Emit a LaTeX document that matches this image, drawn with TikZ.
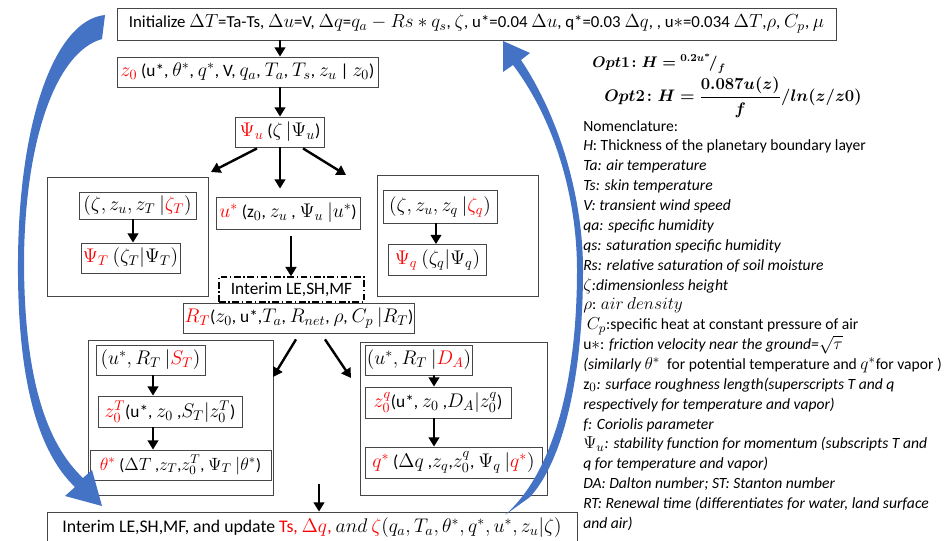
\RequirePackage{fix-cm}
\documentclass[tikz,border=0pt]{standalone}
\usepackage{amsmath,bm}
\usepackage{fontspec}
\setmainfont{Carlito}
\usetikzlibrary{positioning,arrows.meta,calc}
\definecolor{pptblue}{RGB}{68,114,196}
\definecolor{boxgray}{RGB}{70,70,70}
\newcommand{\redtxt}[1]{\textcolor{red}{#1}}
% math a little larger than the text, as in the original
\DeclareMathSizes{13}{14.8}{10.5}{8}
\DeclareMathSizes{12.6}{14.2}{10.2}{8}
\DeclareMathSizes{12.3}{13.3}{9.5}{7.5}
\DeclareMathSizes{13.3}{14.8}{10.5}{8}
\DeclareMathSizes{11.7}{13}{9.5}{7.5}

\begin{document}
\begin{tikzpicture}[x=0.75pt,y=-0.75pt,
                    box/.style={draw=boxgray,line width=0.6pt,inner sep=1pt,font=\fontsize{13}{15}\selectfont},
                    group/.style={draw=boxgray,line width=0.6pt,inner sep=0pt},
                    sz/.style 2 args={minimum width=#1*0.75pt,minimum height=#2*0.75pt},
                    flow/.style={line width=1.8pt,-{Triangle[length=7pt,width=8pt]}},
                    cyclearrow/.style={fill=pptblue,draw=none}
                   ]
  \useasboundingbox (0,0) rectangle (948,541);
  \clip (0,0) rectangle (948,541);

  % group frames
  \node[group,sz={161}{119}] (grpT) at (127.5,236.5) {};
  \node[group,sz={161}{121}] (grpq) at (457.5,235.5) {};
  \node[group,sz={185}{155}] (grpS) at (180.5,417.5) {};
  \node[group,sz={187}{153}] (grpD) at (453.5,418.5) {};

  % main chain
  \node[box,sz={719}{32},font=\fontsize{12.6}{15}\selectfont] (init) at (476.5,24) {Initialize $\Delta T$=Ta-Ts, $\Delta u$=V, $\Delta q$=$q_a - Rs * q_s$, $\zeta$, u*=0.04 $\Delta u$, q*=0.03 $\Delta q$, , u$*$=0.034 $\Delta T$,$\rho$, $C_p$, $\mu$};
  \node[box,sz={261}{30}] (z0) at (247.5,72) {\redtxt{$z_0$} (u*, $\theta^*$, $q^*$, V, $q_a$, $T_a$, $T_s$, $z_u$ | $z_0$)};
  \node[box,sz={89}{30}] (psiu) at (280,132) {\redtxt{$\Psi_u$} ($\zeta\,|\Psi_u$)};

  \node[box,sz={117}{27}] (zetaT) at (137.5,205.5) {$(\zeta, z_u, z_T\ |$\redtxt{$\zeta_T$}$)$};
  \node[box,sz={99}{30}] (psiT) at (130.5,258) {\redtxt{$\Psi_T$} $(\zeta_T|\Psi_T)$};
  \node[box,sz={144}{32}] (ustar) at (288,213) {\redtxt{$u^*$} (z$_0$, $z_u$ , $\Psi_u$ $|u^*$)};
  \node[box,sz={145}{25},draw=black,line width=1pt,
        dash pattern=on 5pt off 2pt on 1pt off 2pt] (interim) at (291.5,289.5) {Interim LE,SH,MF};
  \node[box,sz={114}{33}] (zetaq) at (440,206.5) {$(\zeta, z_u, z_q\ |$\redtxt{$\zeta_q$}$)$};
  \node[box,sz={98}{31}] (psiq) at (437.5,260) {\redtxt{$\Psi_q$} $(\zeta_q|\Psi_q)$};

  \node[box,sz={228}{30}] (rt) at (299,318) {\redtxt{$R_T$}($z_0$, u*,$T_a$, $R_{net}$, $\rho$, $C_p$ $|R_T$)};

  \node[box,sz={109}{30}] (st) at (150.5,360) {$(u^*, R_T\ |$\redtxt{$S_T$}$)$};
  \node[box,sz={144}{31}] (z0T) at (170,411.5) {\redtxt{$z_0^T$}(u*, $z_0$ ,$S_T|z_0^T$)};
  \node[box,sz={181}{30},font=\fontsize{12.3}{14}\selectfont] (theta) at (180.5,465) {\redtxt{$\theta^*$} ($\Delta T$ ,$z_T$,$z_0^T$, $\Psi_T$ $|\theta^*$)};
  \node[box,sz={106}{30}] (da) at (419,360) {$(u^*, R_T\ |$\redtxt{$D_A$}$)$};
  \node[box,sz={146}{31}] (z0q) at (438,402.5) {\redtxt{$z_0^q$}(u*, $z_0$ ,$D_A|z_0^q$)};
  \node[box,sz={177}{31}] (qstar) at (453.5,462.5) {\redtxt{$q^*$} ($\Delta q$ ,$z_q$,$z_0^q$, $\Psi_q$ $|$\redtxt{$q^*$}$)$};

  \node[box,sz={530}{32},font=\fontsize{13.3}{16}\selectfont] (update) at (312,528) {Interim LE,SH,MF, and update \redtxt{Ts, $\Delta q$,} $and$ \redtxt{$\zeta$}$(q_a,T_a,\theta^*, q^*,u^*, z_u|\zeta)$};

  % free ends
  \coordinate (psiuL) at (211,172);
  \coordinate (psiuR) at (346,175);
  \coordinate (rtL) at (273,377);
  \coordinate (rtR) at (351,378);
  \coordinate (downS) at (319,484);

  \path[flow]
    (init.south -| psiu) edge (z0.north -| psiu)
    (z0.south -| psiu) edge (psiu.north)
    ($(psiu.south)+(-23,1)$) edge (psiuL)
    (psiu.south) edge[shorten >=6pt] (ustar.north -| psiu)
    ($(psiu.south)+(23,1)$) edge (psiuR)
    (zetaT.south -| 133,0) edge (psiT.north -| 133,0)
    (ustar.south -| 291,0) edge[shorten <=5pt] (interim.north -| 291,0)
    (zetaq.south -| 436,0) edge (psiq.north -| 436,0)
    ($(rt.south)+(-3,6)$) edge (rtL)
    ($(rt.south)+(26,6)$) edge (rtR)
    (st.south -| 153,0) edge (z0T.north -| 153,0)
    (z0T.south -| 153,0) edge (theta.north -| 153,0)
    (da.south -| 434,0) edge (z0q.north -| 434,0)
    (z0q.south -| 434,0) edge (qstar.north -| 434,0)
    (downS) edge (update.north -| downS);

  % loop arrows
  \fill[cyclearrow] (105,15) .. controls (55,20) and (19,120) .. (18,260)
        .. controls (17,380) and (38,452) .. (75,487) -- (65,496) -- (102,506) -- (92,470) -- (83,478)
        .. controls (47,444) and (24,380) .. (24,260) .. controls (25,140) and (56,52) .. (102,39) -- cycle;
  \fill[cyclearrow] (521,60) .. controls (561,120) and (583,200) .. (583,270)
        .. controls (583,380) and (562,462) .. (530,497) -- (505,515)
        .. controls (554,472) and (577,380) .. (577,270) .. controls (577,200) and (556,122) .. (513,65)
        -- (503,72) -- (503,41) -- (530,53) -- cycle;

  % options and nomenclature
  \node[anchor=west,inner sep=0pt,font=\fontsize{11.5}{13}\selectfont] (opt1) at (592,64) {$\bm{Opt1\colon H = {}^{0.2u^*}\!/_{f}}$};
  \node[anchor=west,inner sep=0pt,font=\fontsize{12.5}{14}\selectfont] (opt2) at (604,97) {$\bm{Opt2\colon H = \dfrac{0.087u(z)}{f}/ln(z/z0)}$};
  \node[anchor=north west,align=left,inner sep=0pt,font=\fontsize{11.7}{14.9}\selectfont] (nomen) at (583,120) {%
    Nomenclature:\\
    \textit{H}: Thickness of the planetary boundary layer\\
    \textit{Ta: air temperature}\\
    \textit{Ts: skin temperature}\\
    \textit{V: transient wind speed}\\
    \textit{qa: specific humidity}\\
    \textit{qs: saturation specific humidity}\\
    \textit{Rs: relative saturation of soil moisture}\\
    $\zeta$\textit{:dimensionless height}\\
    $\rho$: $air\ density$\\
    \ $C_p$:specific heat at constant pressure of air\\
    u$*$: \textit{friction velocity near the ground=}$\sqrt{\tau}$\\
    \textit{(similarly $\theta^*$} \ for potential temperature and $q^*$for vapor )\\
    z$_0$\textit{: surface roughness length(superscripts T and q}\\
    \textit{respectively for temperature and vapor)}\\
    \textit{f: Coriolis parameter}\\
    $\Psi_u$\textit{: stability function for momentum (subscripts T and}\\
    \textit{q for temperature and vapor)}\\
    \textit{DA: Dalton number; ST: Stanton number}\\
    \textit{RT: Renewal time (differentiates for water, land surface}\\
    \textit{and air)}};
\end{tikzpicture}
\end{document}
